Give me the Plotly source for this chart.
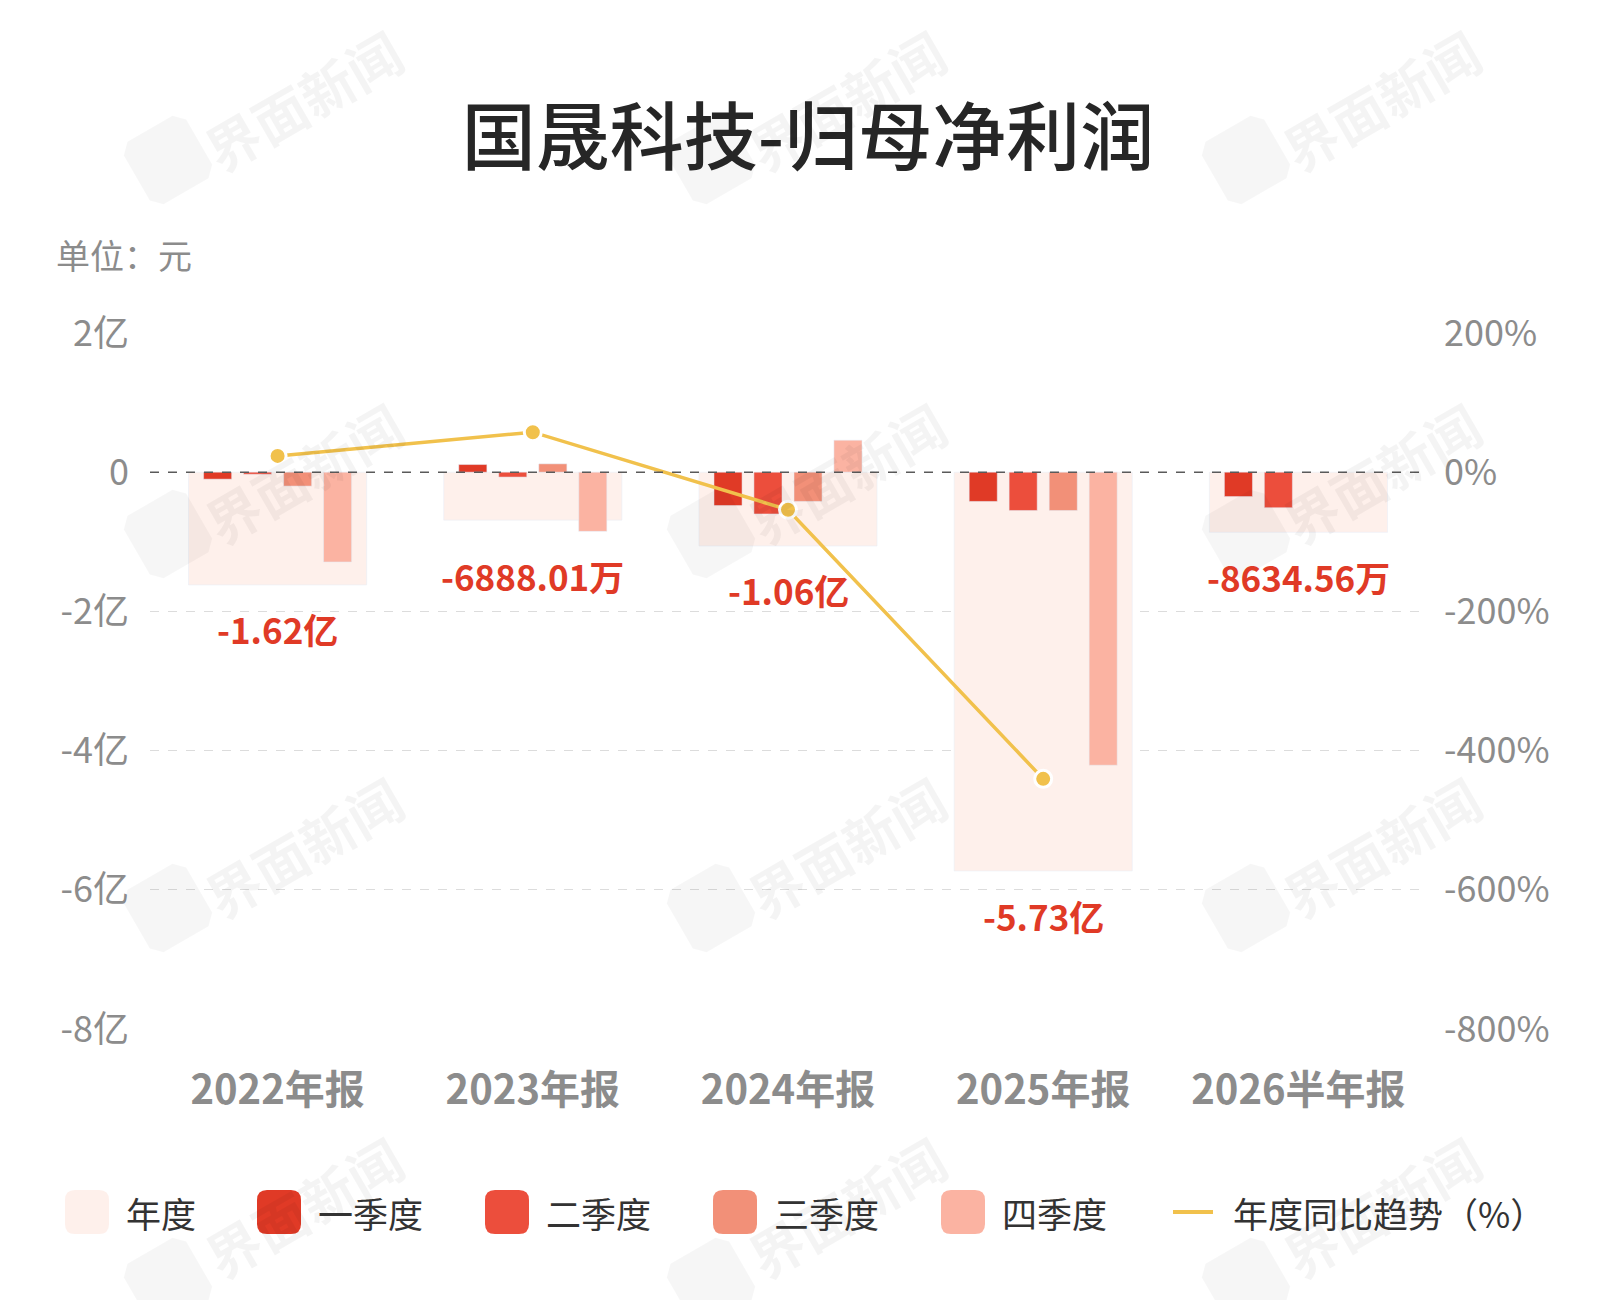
import math
import plotly.graph_objects as go

categories = ["2022年报", "2023年报", "2024年报", "2025年报", "2026半年报"]
annual = [-1.62e8, -0.688801e8, -1.06e8, -5.73e8, -0.863456e8]
annual_labels = ["-1.62亿", "-6888.01万", "-1.06亿", "-5.73亿", "-8634.56万"]
q1 = [-0.10e8, 0.11e8, -0.48e8, -0.42e8, -0.35e8]
q2 = [-0.03e8, -0.07e8, -0.60e8, -0.55e8, -0.51e8]
q3 = [-0.20e8, 0.12e8, -0.42e8, -0.55e8, None]
q4 = [-1.29e8, -0.85e8, 0.46e8, -4.21e8, None]
yoy = [23.4, 57.48, -53.89, -440.57, None]

series_names = ["一季度", "二季度", "三季度", "四季度"]
legend_names = ["年度", "一季度", "二季度", "三季度", "四季度", "年度同比趋势（%）"]
quarter_colors = ["#E03A26", "#EC4E3C", "#F29078", "#FBB3A2"]
annual_color = "#FEF0EB"
line_color = "#F1C14C"

W, H = 1600, 1300
L, R, T, B = 142, 182, 325, 279
PW, PH = W - L - R, H - T - B


def px(x):
    return (x - L) / PW


def py(y):
    return (H - B - y) / PH


xs = list(range(len(categories)))

fig = go.Figure()
fig.add_trace(go.Bar(x=xs, y=annual, name="年度", marker_color=annual_color,
                     width=0.698, hoverinfo="skip", showlegend=False))
qw = 0.11
offsets = [-0.29, -0.1335, 0.0235, 0.18]
for name, vals, col, off in zip(series_names, [q1, q2, q3, q4], quarter_colors, offsets):
    fig.add_trace(go.Bar(x=xs, y=vals, name=name, marker_color=col,
                         width=qw, offset=off, showlegend=False))
fig.add_trace(go.Scatter(x=xs, y=yoy, name="年度同比趋势（%）", yaxis="y2",
                         mode="lines+markers", showlegend=False,
                         line=dict(color=line_color, width=3.5),
                         marker=dict(size=17, color=line_color,
                                     line=dict(color="white", width=3))))

# total labels below the lowest bar of each period
for i, lab in enumerate(annual_labels):
    vals = [v for v in [annual[i], q1[i], q2[i], q3[i], q4[i]] if v is not None]
    low = min(vals)
    fig.add_annotation(x=xs[i], y=low, yref="y", text=lab, showarrow=False,
                       yanchor="middle", yshift=-44,
                       font=dict(size=35, color="#E03A26", weight="bold",
                                 family="Noto Sans CJK SC"))

# dashed zero line
fig.add_shape(type="line", xref="paper", yref="y", x0=0, x1=1, y0=0, y1=0,
              line=dict(color="#5a5a5a", width=1.5, dash="dash"), layer="above")

# watermarks (decoration)
ang = -30
for ix in [160, 703, 1238]:
    for iy in [152, 526, 900, 1274]:
        s, c = 36, 10
        pts = [(-s + c, -s), (s - c, -s), (s, -s + c), (s, s - c), (s - c, s), (-s + c, s), (-s, s - c), (-s, -s + c)]
        a = math.radians(ang)
        path = ""
        for k, (dx, dy) in enumerate(pts):
            rx = ix + dx * math.cos(a) - dy * math.sin(a)
            ry = iy + dx * math.sin(a) + dy * math.cos(a)
            path += ("M" if k == 0 else "L") + " %.5f %.5f " % (px(rx), py(ry))
        path += "Z"
        fig.add_shape(type="path", xref="paper", yref="paper", path=path,
                      fillcolor="rgba(0,0,0,0.035)", line=dict(width=0), layer="above")
        ty = min(max(iy - 62, 92), 1198)
        fig.add_annotation(xref="paper", yref="paper", x=px(ix + 135), y=py(ty),
                           text="界面新闻", showarrow=False, textangle=ang,
                           xanchor="center", yanchor="middle",
                           font=dict(size=54, color="rgba(0,0,0,0.045)", weight="bold",
                                     family="Noto Sans CJK SC"))

# custom legend
leg_y = 1204
rect_x = [57, 249, 477, 705, 933]
leg_colors = [annual_color] + quarter_colors
for k, (x0, col) in enumerate(zip(rect_x, leg_colors)):
    x1 = x0 + 44
    y0, y1 = leg_y - 22, leg_y + 22
    r = 10
    p = ("M %f %f L %f %f Q %f %f %f %f L %f %f Q %f %f %f %f L %f %f Q %f %f %f %f L %f %f Q %f %f %f %f Z" % (
        px(x0 + r), py(y0), px(x1 - r), py(y0), px(x1), py(y0), px(x1), py(y0 + r),
        px(x1), py(y1 - r), px(x1), py(y1), px(x1 - r), py(y1),
        px(x0 + r), py(y1), px(x0), py(y1), px(x0), py(y1 - r),
        px(x0), py(y0 + r), px(x0), py(y0), px(x0 + r), py(y0)))
    fig.add_shape(type="path", xref="paper", yref="paper", path=p,
                  fillcolor=col, line=dict(width=0))
    fig.add_annotation(xref="paper", yref="paper", x=px(x0 + 59), y=py(leg_y),
                       xanchor="left", yanchor="middle", showarrow=False,
                       text=legend_names[k],
                       font=dict(size=35, color="#333333", family="Noto Sans CJK SC"))
fig.add_shape(type="line", xref="paper", yref="paper", x0=px(1165), x1=px(1205),
              y0=py(leg_y), y1=py(leg_y), line=dict(color=line_color, width=4))
fig.add_annotation(xref="paper", yref="paper", x=px(1223), y=py(leg_y),
                   xanchor="left", yanchor="middle", showarrow=False,
                   text=legend_names[5],
                   font=dict(size=35, color="#333333", family="Noto Sans CJK SC"))

fig.add_annotation(xref="paper", yref="paper", x=px(46), y=py(246), xanchor="left",
                   yanchor="middle", text="单位：元", showarrow=False,
                   font=dict(size=34, color="#8c8c8c", family="Noto Sans CJK SC"))

fig.update_layout(
    width=W, height=H,
    paper_bgcolor="white", plot_bgcolor="white",
    barmode="overlay",
    margin=dict(l=L, r=R, t=T, b=B),
    title=dict(text="国晟科技-归母净利润", x=0.5, xanchor="center",
               yref="container", y=1 - 130 / H, yanchor="middle",
               font=dict(size=74, color="#262626", weight=500,
                         family="Noto Sans CJK SC")),
    font=dict(family="Noto Sans CJK SC", color="#8c8c8c"),
    showlegend=False,
    xaxis=dict(tickvals=xs, ticktext=categories,
               range=[-0.5, 4.5], showgrid=False, zeroline=False,
               tickfont=dict(size=40, color="#8c8c8c", weight="bold"), ticks="",
               ticklabelstandoff=34),
    yaxis=dict(range=[-8e8, 2e8], tickvals=[2e8, 0, -2e8, -4e8, -6e8, -8e8],
               ticktext=["2亿", "0", "-2亿", "-4亿", "-6亿", "-8亿"],
               showgrid=True, gridcolor="#dcdcdc", griddash="dash", gridwidth=1,
               zeroline=False,
               tickfont=dict(size=36, color="#8c8c8c"), ticklabelstandoff=20),
    yaxis2=dict(range=[-800, 200], tickvals=[200, 0, -200, -400, -600, -800],
                ticktext=["200%", "0%", "-200%", "-400%", "-600%", "-800%"],
                overlaying="y", side="right", showgrid=False, zeroline=False,
                tickfont=dict(size=36, color="#8c8c8c"), ticklabelstandoff=17),
)

fig.write_html("out.html")
